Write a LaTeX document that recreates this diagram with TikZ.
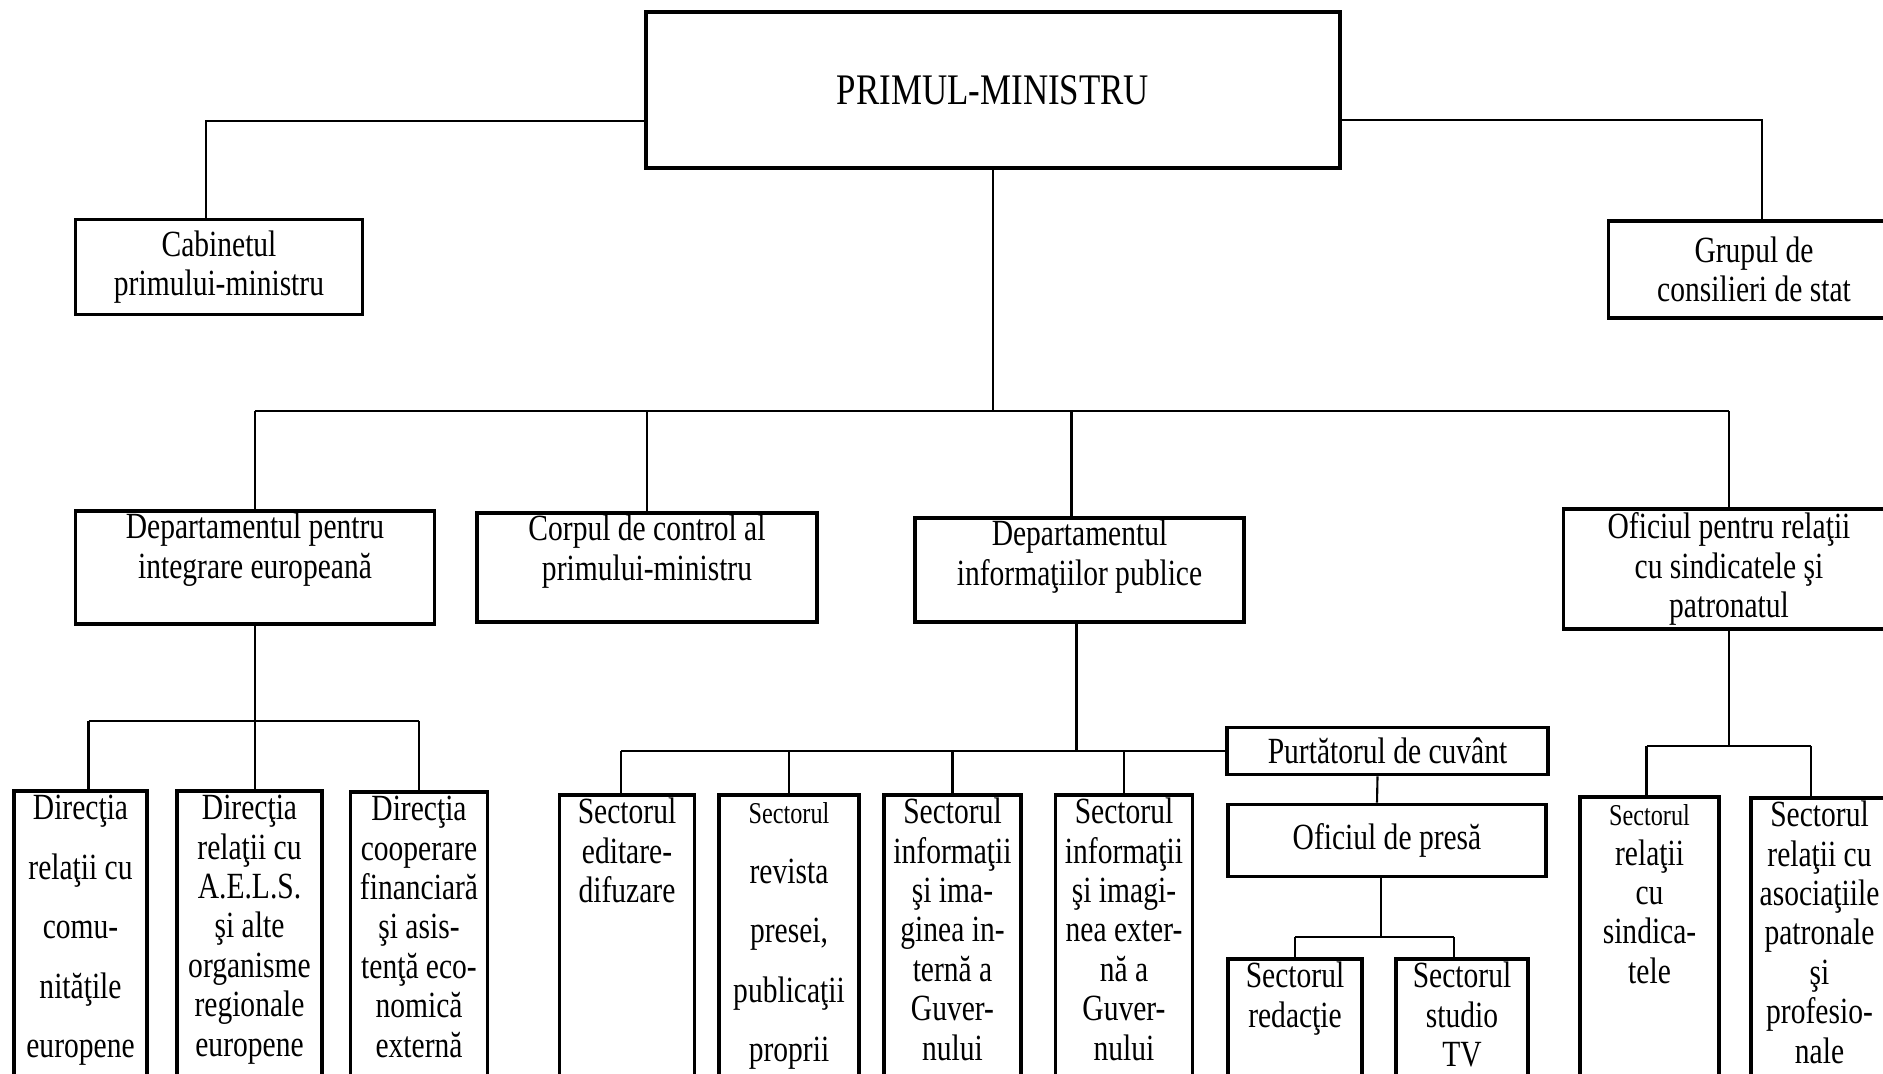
\documentclass[tikz,border=0pt]{standalone}
\usepackage{fontspec}
\setmainfont{Liberation Serif}[FakeStretch=0.8]
\newcommand{\mic}[1]{{\fontsize{8.6}{11}\selectfont #1}}
\newcommand{\rinduri}[1]{\begin{tabular}[t]{@{}c@{}}#1\end{tabular}}

\begin{document}
\begin{tikzpicture}[x=0.01cm, y=-0.01cm,
    cutie/.style={draw, rectangle, line width=1pt, align=center, inner xsep=1pt, inner ysep=0pt, font=\fontsize{10.5}{11.2}\selectfont},
    coloana/.style={cutie, anchor=north, text height=0.29cm, text depth=3.2cm},
    legatura/.style={line width=0.6pt}]
    \useasboundingbox (0,0) rectangle (1883,1074);
    \clip (0,0) rectangle (1883,1074);

    % Conducerea
    \node (pm) [cutie, minimum width=6.94cm, minimum height=1.56cm, font=\fontsize{12.4}{14}\selectfont] at (993,90) {PRIMUL-MINISTRU};
    \node (cab) [cutie, minimum width=2.87cm, minimum height=0.95cm] at (219,267) {Cabinetul\\primului-ministru};
    \node (grup) [cutie, minimum width=2.91cm, minimum height=0.97cm] at (1754,269.5) {Grupul de\\consilieri de stat};

    % Departamente
    \node (integ) [coloana, minimum width=3.59cm, text height=0.28cm, text depth=0.85cm] at (255,509) {\rinduri{Departamentul pentru\\integrare europeană}};
    \node (corp) [coloana, minimum width=3.40cm, text height=0.28cm, text depth=0.81cm] at (647,511) {\rinduri{Corpul de control al\\primului-ministru}};
    \node (info) [coloana, minimum width=3.29cm, text height=0.28cm, text depth=0.76cm] at (1079.5,516) {\rinduri{Departamentul\\informaţiilor publice}};
    \node (ofsind) [cutie, minimum width=3.31cm, minimum height=1.20cm] at (1729,569) {Oficiul pentru relaţii\\cu sindicatele şi\\patronatul};

    % Directii
    \node (dirA) [coloana, minimum width=1.33cm] at (80.5,789) {\rinduri{Direcţia\\[5.7pt]relaţii cu\\[5.7pt]comu-\\[5.7pt]nităţile\\[5.7pt]europene}};
    \node (dirB) [coloana, minimum width=1.45cm] at (249.5,789) {\rinduri{Direcţia\\relaţii cu\\A.E.L.S.\\şi alte\\organisme\\regionale\\europene}};
    \node (dirC) [coloana, minimum width=1.37cm] at (419,790) {\rinduri{Direcţia\\cooperare\\financiară\\şi asis-\\tenţă eco-\\nomică\\externă}};

    % Sectoare
    \node (sed) [coloana, minimum width=1.35cm] at (627,793) {\rinduri{Sectorul\\editare-\\difuzare}};
    \node (srev) [coloana, minimum width=1.40cm] at (789,793) {\rinduri{\mic{Sectorul}\\[5.7pt]revista\\[5.7pt]presei,\\[5.7pt]publicaţii\\[5.7pt]proprii}};
    \node (sint) [coloana, minimum width=1.37cm] at (952.5,793) {\rinduri{Sectorul\\informaţii\\şi ima-\\ginea in-\\ternă a\\Guver-\\nului}};
    \node (sext) [coloana, minimum width=1.37cm] at (1124,793) {\rinduri{Sectorul\\informaţii\\şi imagi-\\nea exter-\\nă a\\Guver-\\nului}};
    \node (purt) [cutie, minimum width=3.21cm, minimum height=0.47cm] at (1387.5,751) {Purtătorul de cuvânt};
    \node (ofpresa) [cutie, minimum width=3.18cm, minimum height=0.72cm] at (1387,840.5) {Oficiul de presă};
    \node (sred) [coloana, minimum width=1.34cm] at (1295,957) {\rinduri{Sectorul\\redacţie}};
    \node (stv) [coloana, minimum width=1.32cm] at (1462,957) {\rinduri{Sectorul\\studio\\TV}};
    \node (ssind) [coloana, minimum width=1.39cm] at (1649.5,795) {\rinduri{\mic{Sectorul}\\relaţii\\cu\\sindica-\\tele}};
    \node (sasoc) [coloana, minimum width=1.37cm] at (1819.5,796) {\rinduri{Sectorul\\relaţii cu\\asociaţiile\\patronale\\şi\\profesio-\\nale}};

    % Legaturi
    \coordinate (b1) at (994,411);
    \coordinate (b2) at (0,721);
    \coordinate (b3) at (0,937);
    \coordinate (b4) at (0,746);

    \draw[legatura] ([yshift=-0.31cm]pm.west) -| ([xshift=-0.13cm]cab.north);
    \draw[legatura] ([yshift=-0.30cm]pm.east) -| ([xshift=0.08cm]grup.north);
    \draw[legatura] (pm.south) -- (pm.south |- b1);
    \draw[legatura] (b1 -| integ.north) -- (b1 -| ofsind.north);
    \draw[legatura] (b1 -| integ.north) -- (integ.north);
    \draw[legatura] (b1 -| corp.north) -- (corp.north);
    \draw[legatura] ([xshift=-0.08cm]info.north |- b1) -- ([xshift=-0.08cm]info.north);
    \draw[legatura] (b1 -| ofsind.north) -- (ofsind.north);

    \draw[legatura] (integ.south) -- (integ.south |- dirB.north);
    \draw[legatura] ([xshift=0.08cm]dirA.north |- b2) -- (dirC.north |- b2);
    \draw[legatura] ([xshift=0.08cm]dirA.north |- b2) -- ([xshift=0.08cm]dirA.north);
    \draw[legatura] (dirC.north |- b2) -- (dirC.north);

    \draw[legatura] ([xshift=-0.03cm]info.south) -- ([xshift=-0.03cm]info.south |- purt.west);
    \draw[legatura] ([xshift=-0.06cm]sed.north |- purt.west) -- (purt.west);
    \draw[legatura] ([xshift=-0.06cm]sed.north |- purt.west) -- ([xshift=-0.06cm]sed.north);
    \draw[legatura] (srev.north |- purt.west) -- (srev.north);
    \draw[legatura] (sint.north |- purt.west) -- (sint.north);
    \draw[legatura] (sext.north |- purt.west) -- (sext.north);
    \draw[legatura] ([xshift=-0.1cm]purt.south) -- ([xshift=-0.1cm]ofpresa.north);
    \draw[legatura] ([xshift=-0.06cm]ofpresa.south) -- ([xshift=-0.06cm]ofpresa.south |- b3);
    \draw[legatura] (sred.north |- b3) -- ([xshift=-0.08cm]stv.north |- b3);
    \draw[legatura] (sred.north |- b3) -- (sred.north);
    \draw[legatura] ([xshift=-0.08cm]stv.north |- b3) -- ([xshift=-0.08cm]stv.north);

    \draw[legatura] (ofsind.south) -- (ofsind.south |- b4);
    \draw[legatura] ([xshift=-0.03cm]ssind.north |- b4) -- ([xshift=-0.085cm]sasoc.north |- b4);
    \draw[legatura] ([xshift=-0.03cm]ssind.north |- b4) -- ([xshift=-0.03cm]ssind.north);
    \draw[legatura] ([xshift=-0.085cm]sasoc.north |- b4) -- ([xshift=-0.085cm]sasoc.north);
\end{tikzpicture}
\end{document}
